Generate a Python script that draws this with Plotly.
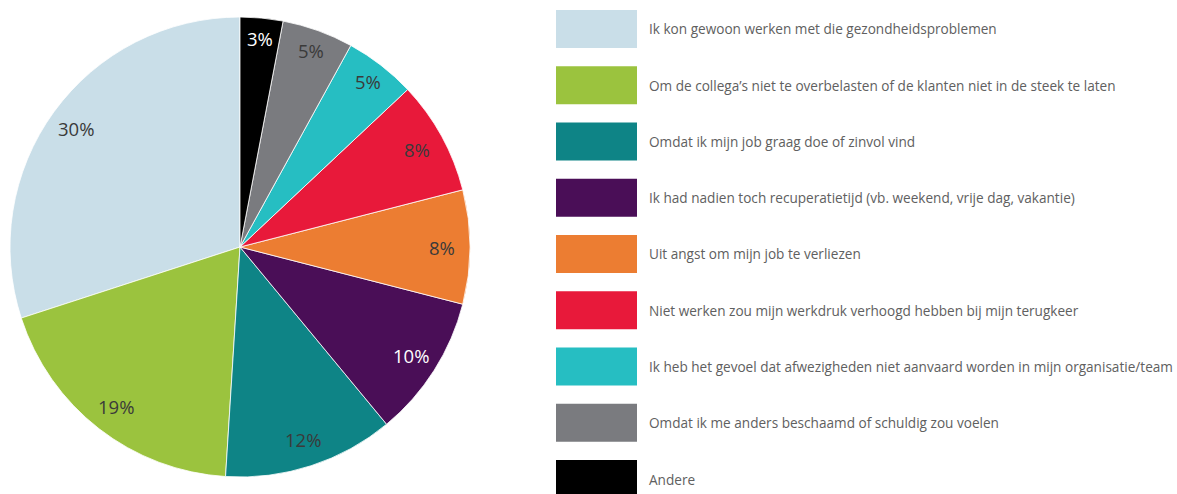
import math
import plotly.graph_objects as go

categories = [
    "Ik kon gewoon werken met die gezondheidsproblemen",
    "Om de collega’s niet te overbelasten of de klanten niet in de steek te laten",
    "Omdat ik mijn job graag doe of zinvol vind",
    "Ik had nadien toch recuperatietijd (vb. weekend, vrije dag, vakantie)",
    "Uit angst om mijn job te verliezen",
    "Niet werken zou mijn werkdruk verhoogd hebben bij mijn terugkeer",
    "Ik heb het gevoel dat afwezigheden niet aanvaard worden in mijn organisatie/team",
    "Omdat ik me anders beschaamd of schuldig zou voelen",
    "Andere",
]
values = [30, 19, 12, 10, 8, 8, 5, 5, 3]
colors = ["#C9DEE8", "#9BC33E", "#0E8486", "#4A0E57", "#EC7D32",
          "#E8193A", "#26BEC2", "#7A7B7F", "#000000"]
label_colors = ["#3A3A3A", "#3A3A3A", "#3A3A3A", "#FFFFFF", "#3A3A3A",
                "#3A3A3A", "#3A3A3A", "#3A3A3A", "#FFFFFF"]

W, H = 1177, 494
cx, cy, R = 240, 247, 230  # pixel geometry of the pie
total = sum(values)

fig = go.Figure()
fig.add_trace(go.Pie(
    labels=categories,
    values=values,
    sort=False,
    direction="counterclockwise",
    rotation=-values[0] / total * 360,
    marker=dict(colors=colors, line=dict(color="white", width=0.8)),
    textinfo="none",
    hoverinfo="label+percent",
    showlegend=False,
    domain=dict(x=[(cx - R) / W, (cx + R) / W],
                y=[(H - cy - R) / H, (H - cy + R) / H]),
))

annotations = []
shapes = []
cum = 0
for v, lc in zip(values, label_colors):
    mid = (cum + v / 2) / total * 2 * math.pi
    cum += v
    frac = 0.88 if v >= 8 else 0.91
    px = cx - R * frac * math.sin(mid)
    py = cy - R * frac * math.cos(mid)
    annotations.append(dict(
        x=px / W, y=1 - py / H, xref="paper", yref="paper",
        text=f"{round(v / total * 100)}%", showarrow=False,
        font=dict(family="Open Sans", size=18.5, color=lc),
        xanchor="center", yanchor="middle",
    ))

box_x0, box_x1, top0, step, bh = 556, 637, 10, 56.25, 38
for i, (cat, col) in enumerate(zip(categories, colors)):
    t = top0 + i * step
    shapes.append(dict(
        type="rect", xref="paper", yref="paper",
        x0=box_x0 / W, x1=box_x1 / W, y0=1 - (t + bh) / H, y1=1 - t / H,
        fillcolor=col, line=dict(width=0),
    ))
    annotations.append(dict(
        x=647 / W, y=1 - (t + bh / 2) / H, xref="paper", yref="paper",
        text=cat, showarrow=False, xanchor="left", yanchor="middle",
        font=dict(family="Open Sans", size=13.6, color="#606060"),
    ))

fig.update_layout(
    width=W, height=H,
    margin=dict(l=0, r=0, t=0, b=0),
    paper_bgcolor="white", plot_bgcolor="white",
    annotations=annotations, shapes=shapes,
)
fig.write_html("out.html")
